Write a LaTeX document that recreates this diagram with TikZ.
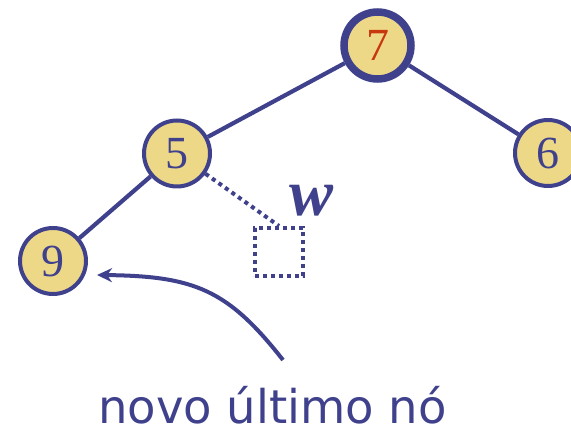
\documentclass[tikz,border=0pt]{standalone}
\usepackage{fontspec}
\setmainfont{Liberation Serif}
\newfontfamily\labelfont{DejaVu Sans}
\usetikzlibrary{arrows.meta}
\definecolor{hblue}{HTML}{3F418C}
\definecolor{hfill}{HTML}{EDD888}
\definecolor{hred}{HTML}{C8380F}
\tikzset{
  heapnode/.style={circle, draw=hblue, fill=hfill, line width=4pt, minimum size=66pt, inner sep=0pt, text=hblue, font=\fontsize{46}{46}\selectfont},
  rootnode/.style={heapnode, line width=7.5pt, minimum size=67pt, text=hred},
  treeedge/.style={draw=hblue, line width=4.2pt},
  dotedge/.style={draw=hblue, line width=4pt, dash pattern=on 4pt off 4pt},
}
\begin{document}
\begin{tikzpicture}[x=1pt,y=-1pt]
\useasboundingbox (0,0) rectangle (571,430);
\node[rootnode] (n7) at (377.5,45.5) {7};
\node[heapnode] (n5) at (177,153.5) {5};
\node[heapnode] (n6) at (548,153) {6};
\node[heapnode] (n9) at (53,261) {9};
\node[draw=hblue, line width=4pt, dash pattern=on 4pt off 4pt, minimum size=48pt, inner sep=0pt] (sq) at (279,252) {};
\node[text=hblue, font=\fontsize{66}{66}\selectfont\bfseries\itshape, inner sep=0pt] (w) at (312,201) {w};
\path[treeedge] (n7) -- (n5);
\path[treeedge] (n7) -- (n6);
\path[treeedge] (n5) -- (n9);
\path[dotedge] (n5) -- (sq.north);
\coordinate (start) at (283,360);
\coordinate (tip) at (97,275);
\draw[hblue, line width=4pt, -{Stealth[length=15pt,width=14pt]}] (start) .. controls (228,290) and (195,276) .. (tip);
\node[text=hblue, font=\labelfont\fontsize{46.5}{46.5}\selectfont, anchor=base, inner sep=0pt] (lbl) at (272.5,424) {novo último nó};
\end{tikzpicture}
\end{document}
